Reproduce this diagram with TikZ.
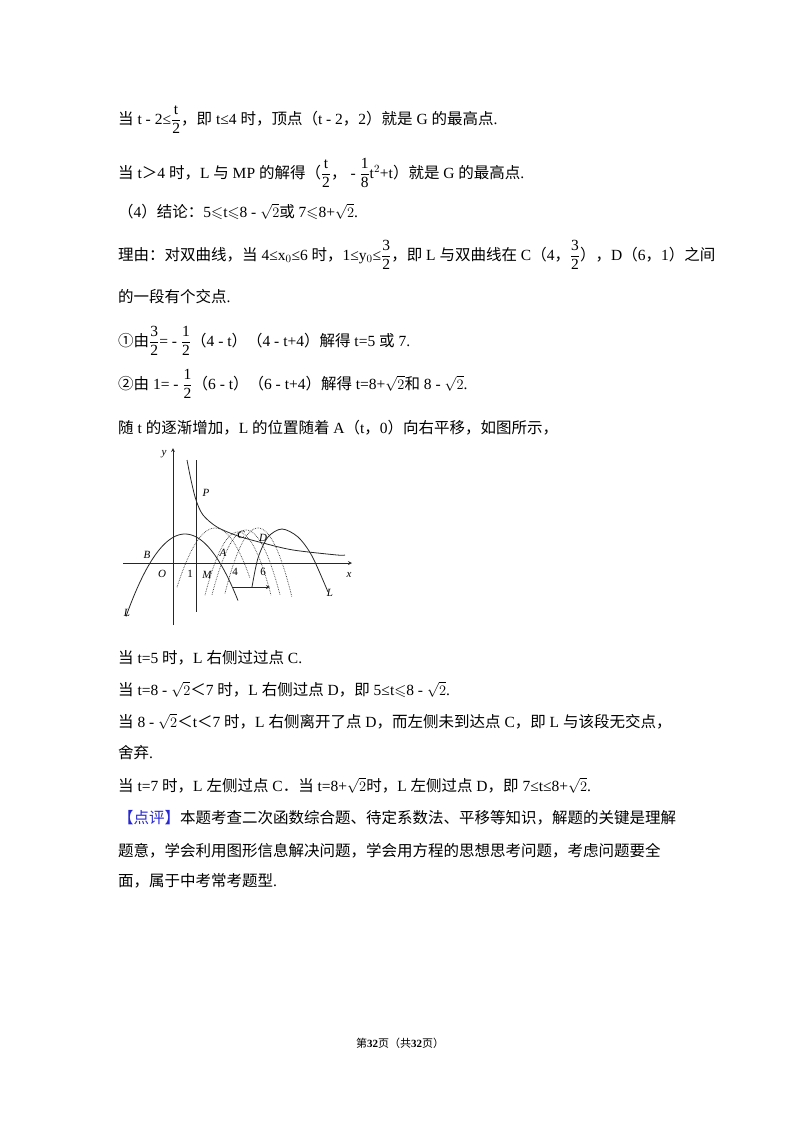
\documentclass[tikz,border=0pt]{standalone}
\usepackage{amsmath,amssymb}
\usepackage{fontspec}
\setmainfont{Liberation Serif}
\newfontfamily\cjk{Noto Sans CJK SC}
\XeTeXinterchartokenstate=1
\newXeTeXintercharclass\CJKcls
\newcount\ccnt
\ccnt="4E00 \loop \XeTeXcharclass\ccnt=\CJKcls \advance\ccnt 1 \ifnum\ccnt<"A000 \repeat
\ccnt="3000 \loop \XeTeXcharclass\ccnt=\CJKcls \advance\ccnt 1 \ifnum\ccnt<"3040 \repeat
\ccnt="FF00 \loop \XeTeXcharclass\ccnt=\CJKcls \advance\ccnt 1 \ifnum\ccnt<"FF60 \repeat
\ccnt="2460 \loop \XeTeXcharclass\ccnt=\CJKcls \advance\ccnt 1 \ifnum\ccnt<"2474 \repeat
\XeTeXinterchartoks 0 \CJKcls = {\cjk}
\XeTeXinterchartoks 4095 \CJKcls = {\cjk}
\XeTeXinterchartoks \CJKcls 0 = {\rmfamily}
\XeTeXinterchartoks \CJKcls 4095 = {\rmfamily}
\newcommand{\fr}[2]{$\dfrac{\text{#1}}{\text{#2}}$}
\definecolor{blu}{RGB}{40,40,210}
\tikzset{txt/.style={anchor=base west,inner sep=0pt,font=\fontsize{15.5}{18}\selectfont},
 lbl/.style={inner sep=0pt,font=\fontsize{11}{12}\selectfont\itshape},
 crv/.style={line width=0.8pt,black!85}, dot/.style={line width=0.7pt,densely dotted,black!80}}
\begin{document}
\begin{tikzpicture}[x=1pt,y=-1pt]
\useasboundingbox (0,0) rectangle (800,1132);
\node[txt] (l1) at (118,124) {当 t - 2≤\fr{t}{2}，即 t≤4 时，顶点（t - 2，2）就是 G 的最高点.};
\node[txt] (l2) at (118,178) {当 t＞4 时，L 与 MP 的解得（\fr{t}{2}， - \fr{1}{8}t$^{2}$+t）就是 G 的最高点.};
\node[txt] (l3) at (118,217) {（4）结论：5$\leqslant$t$\leqslant$8 - $\sqrt{2}$或 7$\leqslant$8+$\sqrt{2}$.};
\node[txt] (l4) at (118,260) {理由：对双曲线，当 4≤x$_0$≤6 时，1≤y$_0$≤\fr{3}{2}，即 L 与双曲线在 C（4，\fr{3}{2}），D（6，1）之间};
\node[txt] (l5) at (118,302) {的一段有个交点.};
\node[txt] (l6) at (118,346) {①由\fr{3}{2}= - \fr{1}{2}（4 - t）（4 - t+4）解得 t=5 或 7.};
\node[txt] (l7) at (118,389) {②由 1= - \fr{1}{2}（6 - t）（6 - t+4）解得 t=8+$\sqrt{2}$和 8 - $\sqrt{2}$.};
\node[txt] (l8) at (118,433) {随 t 的逐渐增加，L 的位置随着 A（t，0）向右平移，如图所示，};
% graph
\coordinate (xs) at (123,563); \coordinate (xe) at (352,563);
\coordinate (ys) at (173,625); \coordinate (ye) at (173,448);
\draw[crv,->,>=stealth] (xs) -- (xe);
\draw[crv,->,>=stealth] (ys) -- (ye);
\coordinate (v1) at (196,460); \coordinate (v2) at (196,612);
\draw[crv] (v1) -- (v2);
\draw[crv] plot[smooth] coordinates {(187,460) (191,480) (196,500) (203,515) (217,527) (238,536) (263,543) (293,550) (337,555) (345,555)};
\draw[crv] plot[domain=126:238,samples=50] (\x,{534+0.0237*(\x-185)^2});
\draw[crv] plot[smooth] coordinates {(252,587) (258,558) (268,537) (282,529) (298,537) (312,556) (328,592)};
\draw[dot] plot[domain=177:250,samples=40] (\x,{528+0.041*(\x-215)^2});
\draw[dot] plot[domain=205:271,samples=40] (\x,{532+0.058*(\x-238)^2});
\draw[dot] plot[domain=212:280,samples=40] (\x,{530+0.056*(\x-246)^2});
\draw[dot] plot[domain=225:292,samples=40] (\x,{528+0.06*(\x-258)^2});
\coordinate (a1) at (233,587); \coordinate (a2) at (270,587);
\draw[crv,->,>=stealth] (a1) -- (a2);
\node[lbl] (ly) at (164,454) {y};
\node[lbl] (lx) at (349,575) {x};
\node[lbl] (lP) at (206,493) {P};
\node[lbl] (lB) at (147,555) {B};
\node[lbl] (lO) at (162,574) {O};
\node[lbl,font=\fontsize{11}{12}\selectfont] (l1n) at (190,574) {1};
\node[lbl] (lM) at (207,575) {M};
\node[lbl] (lA) at (223,553) {A};
\node[lbl,font=\fontsize{11}{12}\selectfont] (l4n) at (235,572) {4};
\node[lbl,font=\fontsize{11}{12}\selectfont] (l6n) at (263,572) {6};
\node[lbl] (lC) at (241,535) {C};
\node[lbl] (lD) at (263,538) {D};
\node[lbl] (lL1) at (127,613) {L};
\node[lbl] (lL2) at (330,593) {L};
% after graph
\node[txt] (m1) at (118,663) {当 t=5 时，L 右侧过过点 C.};
\node[txt] (m2) at (118,695) {当 t=8 - $\sqrt{2}$＜7 时，L 右侧过点 D，即 5≤t$\leqslant$8 - $\sqrt{2}$.};
\node[txt] (m3) at (118,727) {当 8 - $\sqrt{2}$＜t＜7 时，L 右侧离开了点 D，而左侧未到达点 C，即 L 与该段无交点，};
\node[txt] (m4) at (118,758) {舍弃.};
\node[txt] (m5) at (118,791) {当 t=7 时，L 左侧过点 C．当 t=8+$\sqrt{2}$时，L 左侧过点 D，即 7≤t≤8+$\sqrt{2}$.};
\node[txt] (m6) at (118,823) {{\color{blu}【点评】}本题考查二次函数综合题、待定系数法、平移等知识，解题的关键是理解};
\node[txt] (m7) at (118,856) {题意，学会利用图形信息解决问题，学会用方程的思想思考问题，考虑问题要全};
\node[txt] (m8) at (118,886) {面，属于中考常考题型.};
\node[inner sep=0pt,font=\fontsize{11}{12}\selectfont] (ft) at (400,1043) {第\textbf{32}页（共\textbf{32}页）};
\end{tikzpicture}
\end{document}
